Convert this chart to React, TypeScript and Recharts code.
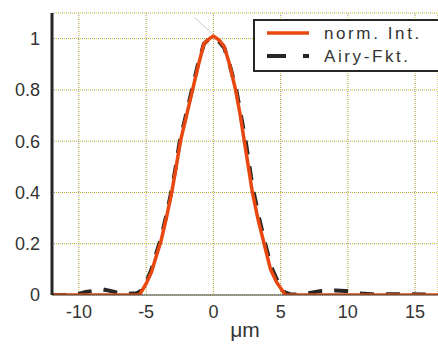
import type { ReactElement } from "react";
import {
  LineChart,
  Line,
  XAxis,
  YAxis,
  CartesianGrid,
  ReferenceLine,
} from "recharts";

// measured intensity, normalised
const intX = [-12, -5.5, -5, -4.6, -4.2, -3.9, -3.5, -3.1, -2.8, -2.45, -2, -1.55, -1.1, -0.7, -0.3, 0, 0.4, 0.8, 1.2, 1.65, 2, 2.3, 2.75, 2.9, 3.3, 3.77, 4.25, 4.7, 5.35, 16.7];
const intY = [0, 0, 0.044, 0.09, 0.16, 0.21, 0.3, 0.4, 0.49, 0.6, 0.7, 0.8, 0.9, 0.98, 1.0, 1.01, 0.995, 0.97, 0.9, 0.8, 0.7, 0.6, 0.45, 0.4, 0.3, 0.2, 0.1, 0.05, 0, 0];

// Airy fit
const airyX = [-12, -11, -10, -9.5, -8.8, -8.2, -7.5, -6.9, -6.3, -5.7, -5.4, -5, -4.6, -4.2, -3.9, -3.5, -3.1, -2.8, -2.5, -2, -1.6, -1.1, -0.7, -0.3, 0.1, 0.4, 0.8, 1.2, 1.7, 2.05, 2.4, 2.8, 3.0, 3.4, 3.85, 4.3, 4.8, 5.3, 5.7, 6.3, 6.8, 7.4, 7.9, 8.5, 9.1, 9.8, 10.4, 11, 11.7, 13, 14.3, 15.7, 16.7];
const airyY = [0, 0.001, 0.004, 0.012, 0.017, 0.022, 0.014, 0.006, 0.005, 0.007, 0.015, 0.05, 0.1, 0.17, 0.22, 0.31, 0.41, 0.5, 0.6, 0.71, 0.8, 0.91, 0.98, 1.0, 1.0, 0.99, 0.965, 0.9, 0.8, 0.7, 0.6, 0.46, 0.4, 0.3, 0.2, 0.11, 0.05, 0.01, 0.003, 0.002, 0.004, 0.01, 0.015, 0.016, 0.018, 0.016, 0.012, 0.006, 0.003, 0.003, 0.003, 0.002, 0.002];

const xTicks = [-10, -5, 0, 5, 10, 15];
const yTicks = [0, 0.2, 0.4, 0.6, 0.8, 1];
const yLabels = ["0", "0.2", "0.4", "0.6", "0.8", "1"];

// stray thin line near the peak
const strayX = [-1.41, 0];
const strayY = [1.082, 1.016];

const intData = intX.map((x, i) => ({ x, y: intY[i] }));
const airyData = airyX.map((x, i) => ({ x, y: airyY[i] }));

const ORANGE = "#e8470f";
const DARK = "#262626";
const FONT = "'Liberation Sans', Arial, sans-serif";

function LegendBox(): ReactElement {
  const text = { fontFamily: FONT, fontSize: 17, letterSpacing: 2.6, fill: "#333" };
  return (
    <svg width={190} height={54} style={{ display: "block" }}>
      <rect x={1} y={1} width={200} height={51} fill="#fff" stroke={DARK} strokeWidth={2} />
      <line x1={14} y1={14} x2={56} y2={14} stroke={ORANGE} strokeWidth={3.5} />
      <text x={71} y={20} style={text}>norm. Int.</text>
      <line x1={14} y1={37} x2={56} y2={37} stroke={DARK} strokeWidth={4} strokeDasharray="19 17" />
      <text x={71} y={43} style={text}>Airy-Fkt.</text>
    </svg>
  );
}

export default function App(): ReactElement {
  return (
    <div style={{ position: "absolute", left: 0, top: 0, width: 438, height: 344, background: "#fff", overflow: "hidden" }}>
      <LineChart width={438} height={344} margin={{ top: 13, right: 0, bottom: 0, left: 0 }}>
        <CartesianGrid stroke="#d8c400" strokeDasharray="1 3" />
        <CartesianGrid stroke="#888" strokeDasharray="1 3" strokeDashoffset={2} />
        <XAxis
          dataKey="x"
          type="number"
          domain={[-12, 16.7]}
          ticks={xTicks}
          allowDataOverflow
          height={49}
          tickLine={false}
          axisLine={{ stroke: "#444", strokeWidth: 1 }}
          tick={{ fontFamily: FONT, fontSize: 18, fill: "#333" }}
          tickMargin={4}
          label={{ value: "μm", position: "insideBottom", offset: 7, fontFamily: FONT, fontSize: 21, fill: "#333" }}
        />
        <XAxis
          xAxisId="top"
          orientation="top"
          dataKey="x"
          type="number"
          domain={[-12, 16.7]}
          ticks={xTicks}
          height={0}
          mirror
          tick={false}
          tickSize={4}
          tickLine={{ stroke: "#444" }}
          axisLine={{ stroke: "#444", strokeWidth: 2 }}
        />
        <YAxis
          type="number"
          domain={[0, 1.1]}
          ticks={yTicks}
          allowDataOverflow
          width={52}
          tickLine={false}
          axisLine={{ stroke: DARK, strokeWidth: 3 }}
          tick={{ fontFamily: FONT, fontSize: 18, fill: "#333" }}
          tickFormatter={(v: number) => yLabels[yTicks.indexOf(v)] ?? String(v)}
          tickMargin={6}
        />
        <ReferenceLine
          segment={[
            { x: strayX[0], y: strayY[0] },
            { x: strayX[1], y: strayY[1] },
          ]}
          stroke="#c8c8c8"
          strokeWidth={1}
        />
        <Line
          data={airyData}
          dataKey="y"
          type="linear"
          stroke={DARK}
          strokeWidth={4}
          strokeDasharray="14 12"
          dot={false}
          isAnimationActive={false}
        />
        <Line
          data={intData}
          dataKey="y"
          type="linear"
          stroke={ORANGE}
          strokeWidth={3.5}
          dot={false}
          isAnimationActive={false}
        />
      </LineChart>
      <div style={{ position: "absolute", left: 253, top: 19 }}>
        <LegendBox />
      </div>
    </div>
  );
}
